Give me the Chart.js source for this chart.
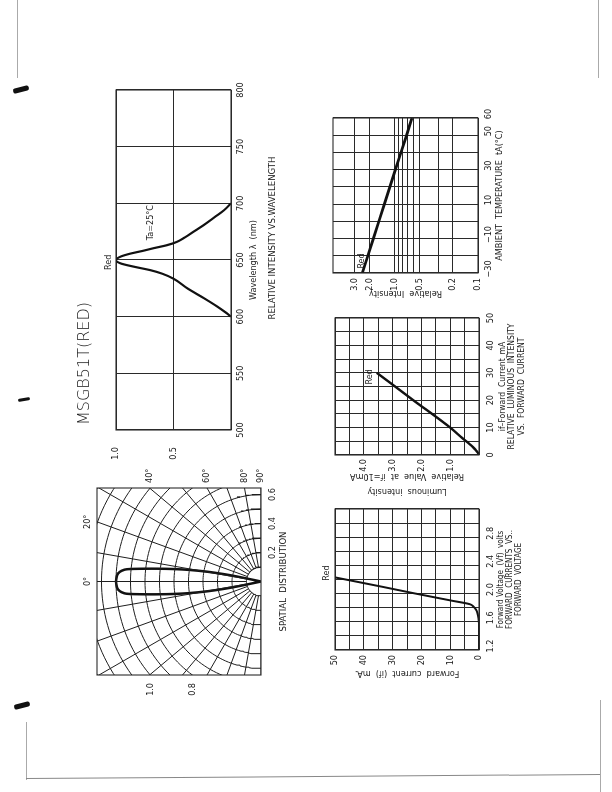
<!DOCTYPE html>
<html>
<head>
<meta charset="utf-8">
<script src="https://cdn.jsdelivr.net/npm/chart.js@4.4.1/dist/chart.umd.min.js"></script>
<style>
  html, body { margin: 0; padding: 0; background: #fff; }
  body { width: 612px; height: 792px; position: relative; overflow: hidden; }
  /* the datasheet is printed landscape: draw it in a 792x612 frame and turn it */
  #sheet { position: absolute; left: 0; top: 0; width: 792px; height: 612px;
           transform-origin: 0 0; transform: translate(0, 792px) rotate(-90deg); }
  #sheet canvas { position: absolute; left: 0; top: 0; }
  .txt { position: absolute; white-space: nowrap; color: #1a1a1a;
         font-family: 'Liberation Sans Narrow', 'DejaVu Sans Condensed', 'Liberation Sans', sans-serif; }
  #title { left: 367px; top: 75px; font-family: 'DejaVu Sans', sans-serif; font-weight: 200;
           font-size: 16px; line-height: 18px; color: #222; }
  .cap { font-size: 9.5px; line-height: 12px; text-align: center; width: 300px; }
  .mk { position: absolute; background: #111; border-radius: 2px; }
  .edge { position: absolute; background: #aaa; }
</style>
</head>
<body>
<div class="edge" style="left:17px;top:0;width:1px;height:78px"></div>
<div class="edge" style="left:598px;top:0;width:1px;height:78px"></div>
<div class="edge" style="left:26px;top:722px;width:1px;height:58px"></div>
<div class="edge" style="left:600px;top:700px;width:1px;height:92px"></div>
<div class="edge" style="left:26px;top:778px;width:574px;height:1px;background:#888;transform:rotate(-0.4deg);transform-origin:0 0"></div>
<div class="mk" style="left:13px;top:87px;width:16px;height:5px;transform:rotate(-14deg)"></div>
<div class="mk" style="left:18px;top:398px;width:12px;height:3px;transform:rotate(-10deg)"></div>
<div class="mk" style="left:14px;top:703px;width:16px;height:5px;transform:rotate(-14deg)"></div>

<div id="sheet">
  <canvas id="polar" width="792" height="612"></canvas>
  <canvas id="spectrum" width="792" height="612"></canvas>
  <canvas id="ifvf" width="792" height="612"></canvas>
  <canvas id="ifiv" width="792" height="612"></canvas>
  <canvas id="temp" width="792" height="612"></canvas>
  <div class="txt" id="title">MSGB51T(RED)</div>
  <div class="txt cap" style="left:404px;top:266px">RELATIVE INTENSITY VS.WAVELENGTH</div>
</div>

<script>
// ---------- data ----------

// relative intensity vs wavelength
const WAVELENGTH = [600, 604, 609, 616, 625, 633.5, 638, 641, 644, 647, 650, 653, 655.5, 658, 660.5, 663, 666, 670, 676, 682, 688, 694, 700];
const SPECTRUM = [0, 0.05, 0.12, 0.23, 0.38, 0.5, 0.6, 0.7, 0.84, 0.96, 1.0, 0.96, 0.88, 0.77, 0.67, 0.56, 0.47, 0.4, 0.31, 0.22, 0.14, 0.06, 0];
const WL_TICKS = [500, 550, 600, 650, 700, 750, 800];
const WL_LABELS = ['500', '550', '600', '650', '700', '750', '800'];
const SPEC_TICKS = [0, 0.5, 1.0];
const SPEC_LABELS = ['', '0.5', '1.0'];

// spatial distribution (angle in degrees, relative intensity)
const LOBE_DEG = [-12.5, -11.8, -11.2, -10.3, -9.2, -8.1, -7, -6, -5.2, -4.4, -3.3, -2, 0, 2, 3.3, 4.4, 5.2, 6, 7, 8.1, 9.2, 10.3, 11.2, 11.8, 12.5];
const LOBE_R = [0, 0.17, 0.265, 0.38, 0.5, 0.61, 0.725, 0.84, 0.93, 0.964, 0.986, 0.995, 1.0, 0.995, 0.986, 0.964, 0.93, 0.84, 0.725, 0.61, 0.5, 0.38, 0.265, 0.17, 0];
const RING_R = [0.1, 0.2, 0.3, 0.4, 0.5, 0.6, 0.7, 0.8, 0.9, 1.0, 1.1, 1.2, 1.3];
const SPOKE_DEG = [-90, -80, -70, -60, -50, -40, -30, -20, -10, 0, 10, 20, 30, 40, 50, 60, 70, 80, 90];
const RING_BOTTOM = [0.2, 0.4, 0.6];
const RING_SIDE = [0.8, 1.0];
const ANGLE_TOP = [0, 20];
const ANGLE_SIDE = [40, 60, 80, 90];

// forward current vs forward voltage
const VF = [1.2, 1.5, 1.65, 1.72, 1.77, 1.81, 1.85, 1.9, 2.0, 2.1, 2.2, 2.23];
const IF_MA = [0, 0, 0.2, 0.5, 1.0, 1.8, 3.2, 9.5, 22, 34, 46.3, 50];
const VF_TICKS = [1.2, 1.4, 1.6, 1.8, 2.0, 2.2, 2.4, 2.6, 2.8, 3.0, 3.2];
const VF_LABELS = ['1.2', '', '1.6', '', '2.0', '', '2.4', '', '2.8', '', ''];
const IF_TICKS = [0, 5, 10, 15, 20, 25, 30, 35, 40, 45, 50];
const IF_LABELS = ['0', '', '10', '', '20', '', '30', '', '40', '', '50'];

// relative luminous intensity vs forward current
const CURRENT = [0, 1, 2, 3, 4, 6, 10, 20, 30];
const LUMINOUS = [0, 0.05, 0.13, 0.22, 0.33, 0.56, 1.0, 2.28, 3.55];
const CUR_TICKS = [0, 5, 10, 15, 20, 25, 30, 35, 40, 45, 50];
const CUR_LABELS = ['0', '', '10', '', '20', '', '30', '', '40', '', '50'];
const LUM_TICKS = [0, 0.5, 1.0, 1.5, 2.0, 2.5, 3.0, 3.5, 4.0, 4.5, 5.0];
const LUM_LABELS = ['', '', '1.0', '', '2.0', '', '3.0', '', '4.0', '', ''];

// relative intensity vs ambient temperature
const TEMP = [-30, -10, 10, 30, 50, 60];
const TEMP_REL = [2.45, 1.8, 1.33, 0.98, 0.72, 0.62];
const TEMP_TICKS = [-30, -20, -10, 0, 10, 20, 30, 40, 50, 60];
const TEMP_LABELS = ['\u221230', '', '\u221210', '', '10', '', '30', '', '50', '60'];
const REL_TICKS = [0.1, 0.2, 0.3, 0.5, 0.6, 0.7, 0.8, 0.9, 1, 2, 3];
const REL_LABELS = ['0.1', '0.2', '', '0.5', '', '', '', '', '1.0', '2.0', '3.0'];

// ---------- drawing ----------
const FONT = "'Liberation Sans Narrow', 'DejaVu Sans Condensed', 'Liberation Sans', sans-serif";
const INK = '#1a1a1a';
const GRID = '#2a2a2a';
const W = 792, H = 612;

Chart.defaults.font.family = FONT;
Chart.defaults.font.size = 9;
Chart.defaults.color = INK;
Chart.defaults.animation = false;
Chart.defaults.responsive = false;
Chart.defaults.events = [];
Chart.defaults.plugins.legend.display = false;
Chart.defaults.plugins.tooltip.enabled = false;

// outline of the plot box
const frame = {
  id: 'frame',
  afterDatasetsDraw(chart) {
    const a = chart.chartArea, ctx = chart.ctx;
    ctx.save();
    ctx.strokeStyle = GRID;
    ctx.lineWidth = 1.1;
    ctx.strokeRect(a.left, a.top, a.right - a.left, a.bottom - a.top);
    ctx.restore();
  }
};

// free labels placed in data units
function notes(items) {
  return {
    id: 'notes',
    afterDraw(chart) {
      const ctx = chart.ctx;
      items.forEach(n => {
        const x = chart.scales.x.getPixelForValue(n.x);
        const y = chart.scales.y.getPixelForValue(n.y);
        ctx.save();
        ctx.font = (n.size || 9) + 'px ' + FONT;
        ctx.fillStyle = INK;
        ctx.textAlign = 'center';
        ctx.textBaseline = 'middle';
        ctx.fillText(n.text, x, y);
        ctx.restore();
      });
    }
  };
}

function axis(o) {
  const horiz = o.position === 'bottom' || o.position === 'top';
  return {
    type: o.type || 'linear',
    position: o.position,
    min: o.min !== undefined ? o.min : o.values[0],
    max: o.max !== undefined ? o.max : o.values[o.values.length - 1],
    afterBuildTicks: s => { s.ticks = o.values.map(v => ({ value: v })); },
    afterFit: s => { if (horiz) s.height = o.fit; else s.width = o.fit; },
    ticks: {
      autoSkip: false, maxRotation: 0, minRotation: 0,
      padding: o.pad, labelOffset: o.offset || 0,
      font: { size: o.size || 9 }, color: INK,
      callback: (v, i) => o.labels[i]
    },
    grid: { display: o.grid !== false, color: GRID, lineWidth: 1, drawTicks: false },
    border: { display: false },
    title: o.title
      ? { display: true, text: o.title, padding: 0, color: INK, font: { size: o.titleSize || 9, lineHeight: o.lh || 1.2 } }
      : { display: false }
  };
}

// padding that puts the plot box at box {l,t,r,b} of the sheet
function place(box, s) {
  return {
    left: box.l - (s.left || 0), right: W - box.r - (s.right || 0),
    top: box.t - (s.top || 0), bottom: H - box.b - (s.bottom || 0)
  };
}

function curve(xs, ys, width) {
  return {
    data: xs.map((x, i) => ({ x, y: ys[i] })),
    showLine: true, borderColor: '#111', borderWidth: width,
    pointRadius: 0, cubicInterpolationMode: 'monotone'
  };
}

// --- spectrum ---
const specBox = { l: 362, t: 116, r: 702, b: 231 };
new Chart(document.getElementById('spectrum'), {
  type: 'scatter',
  data: { datasets: [curve(WAVELENGTH, SPECTRUM, 2.2)] },
  options: {
    layout: { padding: place(specBox, { left: 40, bottom: 28 }) },
    scales: {
      x: axis({ position: 'bottom', values: WL_TICKS, labels: WL_LABELS, pad: 4, fit: 28, title: 'Wavelength \u03bb  (nm)' }),
      y: axis({ position: 'left', values: SPEC_TICKS, labels: SPEC_LABELS, pad: 17, fit: 40 })
    }
  },
  plugins: [frame, notes([{ x: 648, y: 1.06, text: 'Red' }, { x: 683, y: 0.70, text: 'Ta=25\u00b0C' }])]
});

// --- spatial distribution (polar plot on cartesian scales) ---
const polBox = { l: 117, t: 97, r: 304, b: 261 };
const XMAX = 0.645, YMAX = 1.131;
const rad = d => d * Math.PI / 180;
const toXY = (d, r) => ({ x: r * Math.sin(rad(d)), y: r * Math.cos(rad(d)) });
const gridStyle = { showLine: true, borderColor: '#1e1e1e', borderWidth: 1, pointRadius: 0 };
const arcDeg = [];
for (let d = -90; d <= 90; d += 2) arcDeg.push(d);
const polarSets = [
  ...RING_R.map(r => ({ ...gridStyle, data: arcDeg.map(d => toXY(d, r)) })),
  ...SPOKE_DEG.map(d => ({ ...gridStyle, data: [toXY(d, 0.1), toXY(d, 1.6)] })),
  { data: LOBE_DEG.map((d, i) => toXY(d, LOBE_R[i])), showLine: true, borderColor: '#111', borderWidth: 2.5, pointRadius: 0, tension: 0.3 }
];
new Chart(document.getElementById('polar'), {
  type: 'scatter',
  data: { datasets: polarSets },
  options: {
    layout: { padding: place(polBox, { left: 25, right: 30, top: 20, bottom: 28 }) },
    scales: {
      x: axis({ position: 'bottom', min: -XMAX, max: XMAX, values: RING_BOTTOM, labels: RING_BOTTOM.map(v => v.toFixed(1)),
                pad: 6, fit: 28, grid: false, title: 'SPATIAL  DISTRIBUTION', titleSize: 9.5, lh: 1.15 }),
      x2: axis({ position: 'top', min: -XMAX, max: XMAX, values: ANGLE_TOP.map(d => YMAX * Math.tan(rad(d))),
                 labels: ANGLE_TOP.map(d => d + '\u00b0'), pad: 4, fit: 20, grid: false }),
      y: axis({ position: 'left', min: 0, max: YMAX, values: RING_SIDE.map(r => Math.sqrt(r * r - XMAX * XMAX)),
                labels: RING_SIDE.map(v => v.toFixed(1)), pad: 8, fit: 25, grid: false }),
      y2: axis({ position: 'right', min: 0, max: YMAX, values: ANGLE_SIDE.map(d => d === 90 ? 0 : XMAX / Math.tan(rad(d))),
                 labels: ANGLE_SIDE.map(d => d + '\u00b0'), pad: 5, fit: 30, grid: false })
    }
  },
  plugins: [frame]
});

// --- forward current vs forward voltage ---
const vfBox = { l: 142, t: 335, r: 283, b: 479 };
new Chart(document.getElementById('ifvf'), {
  type: 'scatter',
  data: { datasets: [curve(VF, IF_MA, 2)] },
  options: {
    layout: { padding: place(vfBox, { left: 29, bottom: 44 }) },
    scales: {
      x: axis({ position: 'bottom', values: VF_TICKS, labels: VF_LABELS, pad: 6, offset: 4, fit: 44,
                title: ['Forward Voltage  (Vf)  volts', 'FORWARD  CURRENTS  VS..', 'FORWARD  VOLTAGE'], titleSize: 8, lh: 1.1 }),
      y: axis({ position: 'left', values: IF_TICKS, labels: IF_LABELS, pad: 5, fit: 29, title: 'Forward  current  (if)  mA.' })
    }
  },
  plugins: [frame, notes([{ x: 2.29, y: 52.8, text: 'Red' }])]
});

// --- relative luminous intensity vs forward current ---
const ivBox = { l: 337, t: 335, r: 474, b: 479 };
new Chart(document.getElementById('ifiv'), {
  type: 'scatter',
  data: { datasets: [curve(CURRENT, LUMINOUS, 2.4)] },
  options: {
    layout: { padding: place(ivBox, { left: 44, bottom: 47 }) },
    scales: {
      x: axis({ position: 'bottom', values: CUR_TICKS, labels: CUR_LABELS, pad: 6, fit: 47,
                title: ['if\u2013Forward  Current_mA', 'RELATIVE  LUMINOUS  INTENSITY', 'VS.  FORWARD  CURRENT'], titleSize: 8.5, lh: 1.08 }),
      y: axis({ position: 'left', values: LUM_TICKS, labels: LUM_LABELS, pad: 4, fit: 44,
                title: ['Luminous  intensity', 'Relative  Value  at  if=10mA'], lh: 1.65 })
    }
  },
  plugins: [frame, notes([{ x: 28.5, y: 3.78, text: 'Red' }])]
});

// --- relative intensity vs ambient temperature ---
const tBox = { l: 519, t: 333, r: 674, b: 478 };
new Chart(document.getElementById('temp'), {
  type: 'scatter',
  data: { datasets: [curve(TEMP, TEMP_REL, 2.8)] },
  options: {
    layout: { padding: place(tBox, { left: 26, bottom: 27 }) },
    scales: {
      x: axis({ position: 'bottom', values: TEMP_TICKS, labels: TEMP_LABELS, pad: 5, offset: 4, fit: 27,
                title: 'AMBIENT  TEMPERATURE  tA(\u00b0C)' }),
      y: axis({ position: 'left', type: 'logarithmic', min: 0.1, max: 5.5, values: REL_TICKS, labels: REL_LABELS,
                pad: 5, fit: 26, title: 'Relative  Intensity' })
    }
  },
  plugins: [frame, notes([{ x: -23, y: 2.48, text: 'Red' }])]
});
</script>
</body>
</html>
